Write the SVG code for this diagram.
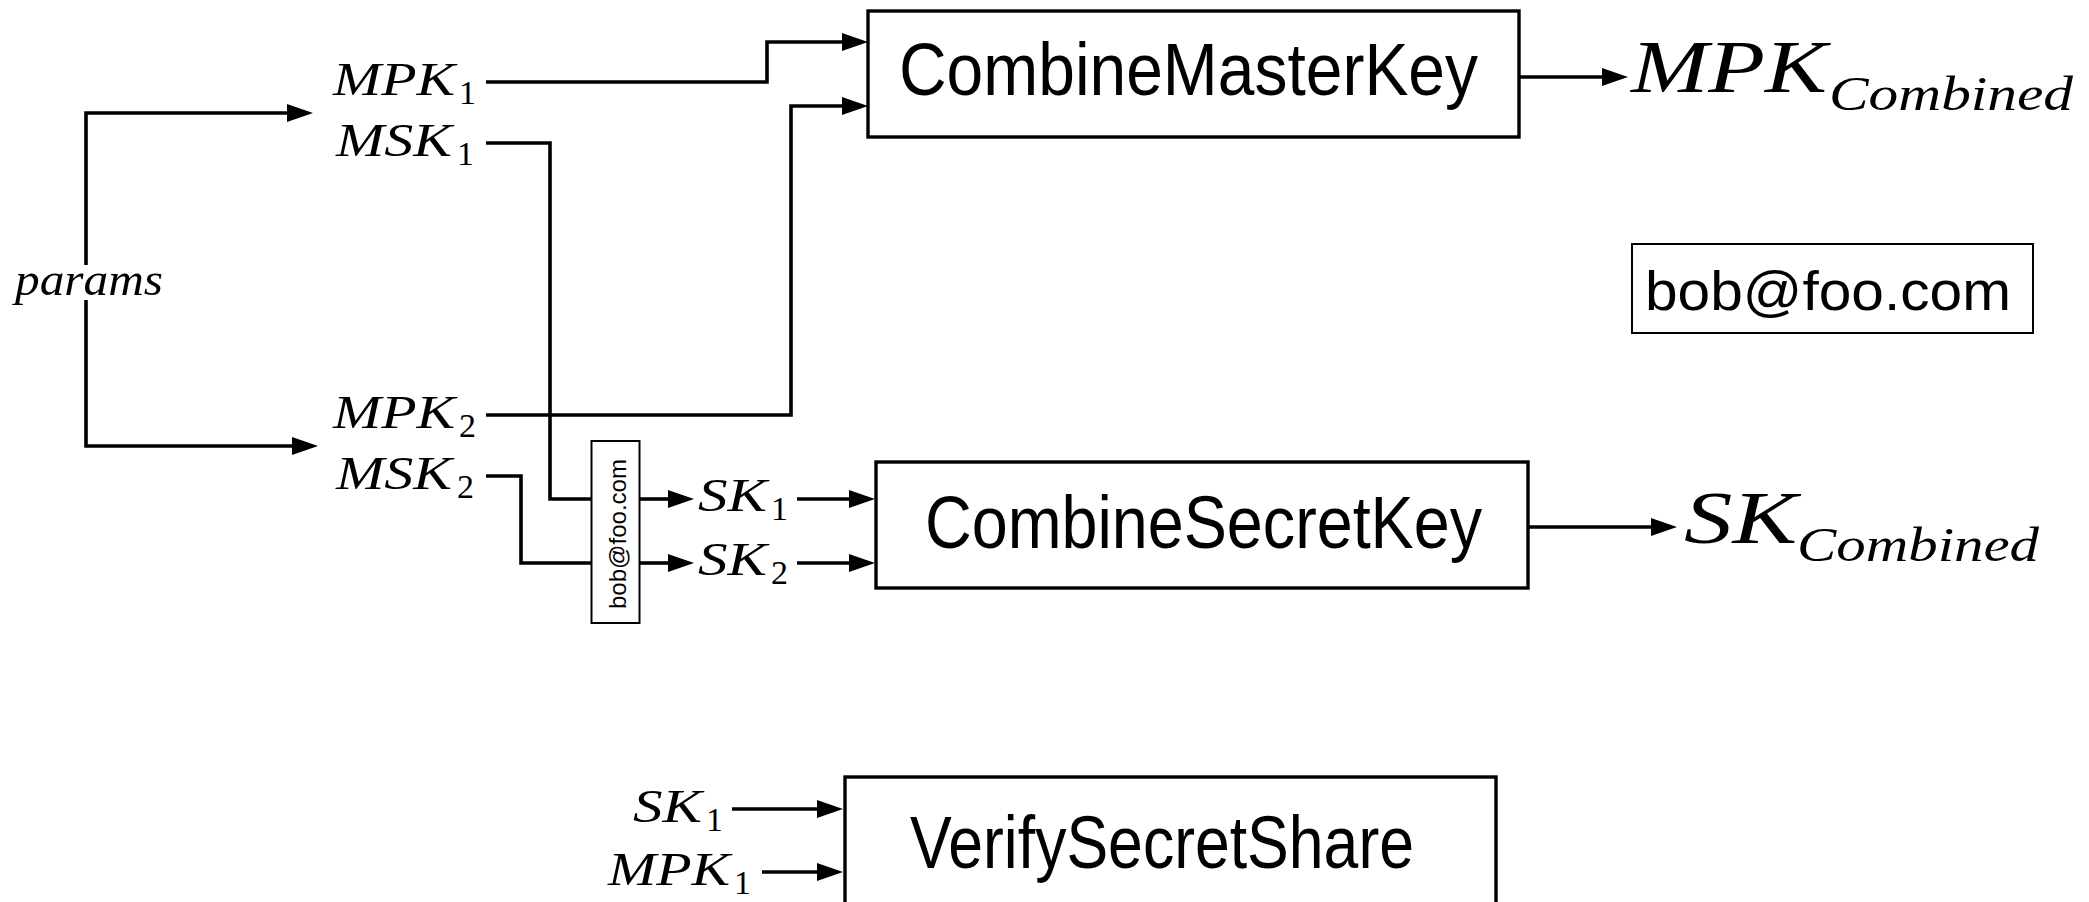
<svg xmlns="http://www.w3.org/2000/svg" width="2089" height="902" viewBox="0 0 2089 902">
<style>
.box{fill:#fff;stroke:#000;stroke-width:3.4}
.thin{fill:#fff;stroke:#000;stroke-width:2}
.con{fill:none;stroke:#000;stroke-width:3.6}
.fn{font-family:"Liberation Sans",Arial,sans-serif;font-size:74px;fill:#000}
.sans{font-family:"Liberation Sans",Arial,sans-serif;fill:#000}
.m{font-family:"Liberation Serif","Times New Roman",serif;font-style:italic;font-size:47px;fill:#000}
.sub{font-family:"Liberation Serif","Times New Roman",serif;font-style:normal;font-size:34px}
.big{font-family:"Liberation Serif","Times New Roman",serif;font-style:italic;font-size:74px;fill:#000}
.bigsub{font-size:48px}
</style>
<defs>
<marker id="ah" viewBox="0 0 26 18" refX="1" refY="9" markerWidth="26" markerHeight="18" markerUnits="userSpaceOnUse" orient="auto">
<path d="M0,0 L26,9 L0,18 z" fill="#000"/>
</marker>
</defs>
<rect width="2089" height="902" fill="#fff"/>
<g id="connectors">
<path class="con" d="M86,265 V113 H288" marker-end="url(#ah)"/>
<path class="con" d="M86,300 V446 H293" marker-end="url(#ah)"/>
<path class="con" d="M486,82 H767 V42 H843" marker-end="url(#ah)"/>
<path class="con" d="M486,415 H791 V106 H843" marker-end="url(#ah)"/>
<path class="con" d="M486,143 H550 V499 H592"/>
<path class="con" d="M486,476 H521 V563 H592"/>
<path class="con" d="M640,499 H669" marker-end="url(#ah)"/>
<path class="con" d="M640,563 H669" marker-end="url(#ah)"/>
<path class="con" d="M797,499 H850" marker-end="url(#ah)"/>
<path class="con" d="M797,563 H850" marker-end="url(#ah)"/>
<path class="con" d="M1519,77 H1603" marker-end="url(#ah)"/>
<path class="con" d="M1528,527 H1652" marker-end="url(#ah)"/>
<path class="con" d="M732,809 H818" marker-end="url(#ah)"/>
<path class="con" d="M762,872 H818" marker-end="url(#ah)"/>
</g>
<g id="params"><text class="m" x="15" y="295" textLength="148" lengthAdjust="spacingAndGlyphs">params</text></g>
<g id="mpk1"><text class="m"><tspan x="333" y="95" textLength="122" lengthAdjust="spacingAndGlyphs">MPK</tspan><tspan class="sub" x="459" y="104">1</tspan></text></g>
<g id="msk1"><text class="m"><tspan x="336" y="156" textLength="116" lengthAdjust="spacingAndGlyphs">MSK</tspan><tspan class="sub" x="457" y="165">1</tspan></text></g>
<g id="mpk2"><text class="m"><tspan x="333" y="428" textLength="122" lengthAdjust="spacingAndGlyphs">MPK</tspan><tspan class="sub" x="459" y="437">2</tspan></text></g>
<g id="msk2"><text class="m"><tspan x="336" y="489" textLength="116" lengthAdjust="spacingAndGlyphs">MSK</tspan><tspan class="sub" x="457" y="498">2</tspan></text></g>
<g id="idbox">
<rect class="thin" x="591.5" y="441" width="48" height="182"/>
<text class="sans" font-size="24" text-anchor="middle" transform="translate(626,534) rotate(-90)" textLength="150" lengthAdjust="spacingAndGlyphs">bob@foo.com</text>
</g>
<g id="sk1"><text class="m"><tspan x="698" y="511" textLength="69" lengthAdjust="spacingAndGlyphs">SK</tspan><tspan class="sub" x="771" y="520">1</tspan></text></g>
<g id="sk2"><text class="m"><tspan x="698" y="575" textLength="69" lengthAdjust="spacingAndGlyphs">SK</tspan><tspan class="sub" x="771" y="584">2</tspan></text></g>
<g id="combineMasterKey">
<rect class="box" x="868" y="11" width="651" height="126"/>
<text class="fn" x="899" y="95" textLength="579" lengthAdjust="spacingAndGlyphs">CombineMasterKey</text>
</g>
<g id="mpkCombined"><text class="big"><tspan x="1631" y="92" textLength="196" lengthAdjust="spacingAndGlyphs">MPK</tspan><tspan class="bigsub" x="1829" y="110" textLength="244" lengthAdjust="spacingAndGlyphs">Combined</tspan></text></g>
<g id="bobBox">
<rect class="thin" x="1632" y="244" width="401" height="89"/>
<text class="sans" font-size="56" x="1645" y="310" textLength="366" lengthAdjust="spacingAndGlyphs">bob@foo.com</text>
</g>
<g id="combineSecretKey">
<rect class="box" x="876" y="462" width="652" height="126"/>
<text class="fn" x="925" y="548" textLength="557" lengthAdjust="spacingAndGlyphs">CombineSecretKey</text>
</g>
<g id="skCombined"><text class="big"><tspan x="1684" y="543" textLength="113" lengthAdjust="spacingAndGlyphs">SK</tspan><tspan class="bigsub" x="1797" y="561" textLength="242" lengthAdjust="spacingAndGlyphs">Combined</tspan></text></g>
<g id="verifySecretShare">
<rect class="box" x="845" y="777" width="651" height="135"/>
<text class="fn" x="910" y="868" textLength="504" lengthAdjust="spacingAndGlyphs">VerifySecretShare</text>
</g>
<g id="sk1b"><text class="m"><tspan x="633" y="822" textLength="69" lengthAdjust="spacingAndGlyphs">SK</tspan><tspan class="sub" x="706" y="831">1</tspan></text></g>
<g id="mpk1b"><text class="m"><tspan x="608" y="885" textLength="122" lengthAdjust="spacingAndGlyphs">MPK</tspan><tspan class="sub" x="734" y="894">1</tspan></text></g>
</svg>
